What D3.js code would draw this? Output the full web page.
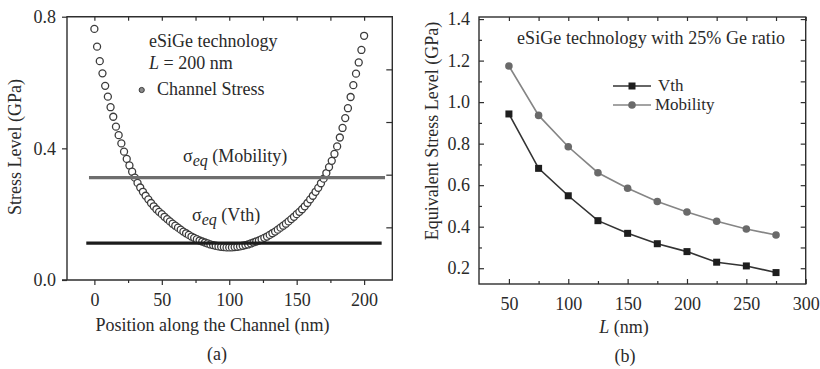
<!DOCTYPE html>
<html>
<head>
<meta charset="utf-8">
<script src="https://cdn.jsdelivr.net/npm/d3@7"></script>
<style>
  body { margin: 0; background: white; }
  svg text { font-family: "Liberation Serif", "Times New Roman", serif; fill: #2a2a2a; }
</style>
</head>
<body>
<div id="canvas"></div>
<script>
"use strict"

/* panel (a): stress along the channel, L = 200 nm */
let positions = [0, 2, 4, 6, 8, 10, 12, 14, 16, 18, 20, 22, 24, 26, 28, 30, 32, 34, 36, 38,
    40, 42, 44, 46, 48, 50, 52, 54, 56, 58, 60, 62, 64, 66, 68, 70, 72, 74, 76, 78,
    80, 82, 84, 86, 88, 90, 92, 94, 96, 98, 100, 102, 104, 106, 108, 110, 112, 114, 116, 118,
    120, 122, 124, 126, 128, 130, 132, 134, 136, 138, 140, 142, 144, 146, 148, 150, 152, 154, 156, 158,
    160, 162, 164, 166, 168, 170, 172, 174, 176, 178, 180, 182, 184, 186, 188, 190, 192, 194, 196, 198, 200];
let channelStress = [0.763, 0.709, 0.665, 0.628, 0.590, 0.557, 0.525, 0.496, 0.466, 0.440,
    0.415, 0.390, 0.368, 0.348, 0.329, 0.311, 0.295, 0.281, 0.268, 0.256,
    0.245, 0.234, 0.224, 0.215, 0.207, 0.200, 0.192, 0.185, 0.178, 0.171,
    0.165, 0.159, 0.153, 0.147, 0.142, 0.137, 0.132, 0.128, 0.124, 0.120,
    0.117, 0.114, 0.111, 0.108, 0.106, 0.104, 0.102, 0.101, 0.100, 0.099,
    0.099, 0.099, 0.100, 0.101, 0.102, 0.104, 0.106, 0.108, 0.111, 0.114,
    0.117, 0.120, 0.124, 0.128, 0.132, 0.137, 0.142, 0.147, 0.153, 0.159,
    0.165, 0.171, 0.178, 0.185, 0.192, 0.200, 0.207, 0.215, 0.224, 0.234,
    0.245, 0.256, 0.268, 0.280, 0.294, 0.308, 0.325, 0.343, 0.362, 0.383,
    0.406, 0.433, 0.462, 0.492, 0.522, 0.556, 0.592, 0.627, 0.661, 0.699, 0.742];
let sigmaMobility = 0.311;
let sigmaVth = 0.112;
let sigmaLineStart = [-4, -6];    // mobility, vth
let sigmaLineEnd = [215.5, 213];

let xTicksA = [0, 50, 100, 150, 200];
let xMinorA = [25, 75, 125, 175];
let yTicksA = [0.0, 0.4, 0.8];
let yRightTicksA = [0.16, 0.32, 0.48, 0.64];

/* panel (b): equivalent stress vs gate length */
let gateLength = [50, 75, 100, 125, 150, 175, 200, 225, 250, 275];
let vthStress = [0.943, 0.681, 0.549, 0.429, 0.368, 0.318, 0.280, 0.229, 0.211, 0.179];
let mobilityStress = [1.174, 0.936, 0.785, 0.660, 0.585, 0.521, 0.471, 0.426, 0.389, 0.360];

let xTicksB = [50, 100, 150, 200, 250, 300];
let xMinorB = [75, 125, 175, 225, 275];
let yTicksB = [0.2, 0.4, 0.6, 0.8, 1.0, 1.2, 1.4];
let yMinorB = [0.3, 0.5, 0.7, 0.9, 1.1, 1.3];

let drawing = d3.select("#canvas")
    .append("svg")
    .attr("width", 820)
    .attr("height", 369);

let frameColor = "#2e2e2e";
let fontSize = "18px";

/* ---------- panel (a) ---------- */
let xA = d3.scaleLinear().domain([-20.3, 220.9]).range([67, 392.3]);
let yA = d3.scaleLinear().domain([0, 0.8]).range([280, 16.7]);

function noDomain(g) {
    g.select(".domain").remove();
    g.selectAll(".tick line").attr("stroke", frameColor).attr("stroke-width", 1.2);
    g.selectAll(".tick text").attr("font-size", fontSize).attr("font-family", "Liberation Serif").attr("fill", "#2a2a2a");
}

// bottom axis, outward ticks
drawing.append("g")
    .attr("transform", "translate(0,280)")
    .call(d3.axisBottom(xA).tickValues(xTicksA).tickSize(5).tickPadding(8).tickFormat(d3.format("d")))
    .call(noDomain);
drawing.append("g")
    .attr("transform", "translate(0,280)")
    .call(d3.axisBottom(xA).tickValues(xMinorA).tickSize(3).tickFormat(""))
    .call(noDomain);
// top, inward
drawing.append("g")
    .attr("transform", "translate(0,16.7)")
    .call(d3.axisTop(xA).tickValues(xTicksA.concat(xMinorA)).tickSize(-4).tickFormat(""))
    .call(noDomain);
// left, outward
drawing.append("g")
    .attr("transform", "translate(67,0)")
    .call(d3.axisLeft(yA).tickValues(yTicksA).tickSize(5).tickPadding(6).tickFormat(d3.format(".1f")))
    .call(noDomain);
// right, inward
drawing.append("g")
    .attr("transform", "translate(392.3,0)")
    .call(d3.axisRight(yA).tickValues(yRightTicksA).tickSize(-6).tickFormat(""))
    .call(noDomain);

let frameA = drawing.append("path")
    .attr("d", "M" + (xA.range()[0] - 5) + "," + yA(0) +
        "H" + xA.range()[1] + "V" + yA(0.8) + "H" + xA.range()[0] + "V" + yA(0))
    .attr("fill", "none")
    .attr("stroke", frameColor)
    .attr("stroke-width", 1.4);

let stressPoints = drawing.append("g")
    .selectAll("circle")
    .data(positions)
    .join("circle")
    .attr("cx", (d) => xA(d))
    .attr("cy", (d, i) => yA(channelStress[i]))
    .attr("r", 3.5)
    .attr("fill", "white")
    .attr("stroke", "#3c3c3c")
    .attr("stroke-width", 1.3);

let mobilityLineA = drawing.append("line")
    .attr("x1", xA(sigmaLineStart[0]))
    .attr("x2", xA(sigmaLineEnd[0]))
    .attr("y1", yA(sigmaMobility))
    .attr("y2", yA(sigmaMobility))
    .attr("stroke", "#6e6e6e")
    .attr("stroke-width", 3.4);

let vthLineA = drawing.append("line")
    .attr("x1", xA(sigmaLineStart[1]))
    .attr("x2", xA(sigmaLineEnd[1]))
    .attr("y1", yA(sigmaVth))
    .attr("y2", yA(sigmaVth))
    .attr("stroke", "#1c1c1c")
    .attr("stroke-width", 3.4);

drawing.append("text")
    .attr("x", 149).attr("y", 47)
    .attr("font-size", fontSize)
    .text("eSiGe technology");

let lengthLabel = drawing.append("text")
    .attr("x", 149).attr("y", 69)
    .attr("font-size", fontSize);
lengthLabel.append("tspan").attr("font-style", "italic").text("L");
lengthLabel.append("tspan").text(" = 200 nm");

drawing.append("circle")
    .attr("cx", 141.7).attr("cy", 90)
    .attr("r", 2.6)
    .attr("fill", "#8a8a8a")
    .attr("stroke", "#3c3c3c")
    .attr("stroke-width", 1);

drawing.append("text")
    .attr("x", 157).attr("y", 95)
    .attr("font-size", fontSize)
    .text("Channel Stress");

let mobilityLabel = drawing.append("text")
    .attr("x", 183).attr("y", 162)
    .attr("font-size", fontSize);
mobilityLabel.append("tspan").text("σ");
mobilityLabel.append("tspan").attr("font-style", "italic").attr("dy", 4).attr("font-size", "16px").text("eq");
mobilityLabel.append("tspan").attr("dy", -4).text(" (Mobility)");

let vthLabel = drawing.append("text")
    .attr("x", 192).attr("y", 221)
    .attr("font-size", fontSize);
vthLabel.append("tspan").text("σ");
vthLabel.append("tspan").attr("font-style", "italic").attr("dy", 4).attr("font-size", "16px").text("eq");
vthLabel.append("tspan").attr("dy", -4).text(" (Vth)");

drawing.append("text")
    .attr("transform", "translate(21,147) rotate(-90)")
    .attr("text-anchor", "middle")
    .attr("font-size", fontSize)
    .text("Stress Level (GPa)");

drawing.append("text")
    .attr("x", 212.5).attr("y", 331)
    .attr("text-anchor", "middle")
    .attr("font-size", fontSize)
    .text("Position along the Channel (nm)");

drawing.append("text")
    .attr("x", 217).attr("y", 360)
    .attr("text-anchor", "middle")
    .attr("font-size", fontSize)
    .text("(a)");

/* ---------- panel (b) ---------- */
let xB = d3.scaleLinear().domain([24.8, 300]).range([479, 805.7]);
let yB = d3.scaleLinear().domain([0.124, 1.41]).range([284, 17]);

drawing.append("g")
    .attr("transform", "translate(0,284)")
    .call(d3.axisBottom(xB).tickValues(xTicksB).tickSize(-5).tickPadding(13).tickFormat(d3.format("d")))
    .call(noDomain);
drawing.append("g")
    .attr("transform", "translate(0,284)")
    .call(d3.axisBottom(xB).tickValues(xMinorB).tickSize(-3).tickFormat(""))
    .call(noDomain);
drawing.append("g")
    .attr("transform", "translate(0,17)")
    .call(d3.axisTop(xB).tickValues(xTicksB.concat(xMinorB)).tickSize(-4).tickFormat(""))
    .call(noDomain);
drawing.append("g")
    .attr("transform", "translate(479,0)")
    .call(d3.axisLeft(yB).tickValues(yTicksB).tickSize(-5).tickPadding(9).tickFormat(d3.format(".1f")))
    .call(noDomain);
drawing.append("g")
    .attr("transform", "translate(479,0)")
    .call(d3.axisLeft(yB).tickValues(yMinorB).tickSize(-3).tickFormat(""))
    .call(noDomain);
drawing.append("g")
    .attr("transform", "translate(805.7,0)")
    .call(d3.axisRight(yB).tickValues(yTicksB.concat(yMinorB)).tickSize(-5).tickFormat(""))
    .call(noDomain);

let frameB = drawing.append("rect")
    .attr("x", xB.range()[0])
    .attr("y", yB.range()[1])
    .attr("width", xB.range()[1] - xB.range()[0])
    .attr("height", yB.range()[0] - yB.range()[1])
    .attr("fill", "none")
    .attr("stroke", frameColor)
    .attr("stroke-width", 1.4);

let lineB = d3.line()
    .x((d, i) => xB(gateLength[i]))
    .y((d) => yB(d));

drawing.append("path")
    .attr("d", lineB(mobilityStress))
    .attr("fill", "none")
    .attr("stroke", "#858585")
    .attr("stroke-width", 1.6);

drawing.append("g")
    .selectAll("circle")
    .data(mobilityStress)
    .join("circle")
    .attr("cx", (d, i) => xB(gateLength[i]))
    .attr("cy", (d) => yB(d))
    .attr("r", 3.8)
    .attr("fill", "#6a6a6a");

drawing.append("path")
    .attr("d", lineB(vthStress))
    .attr("fill", "none")
    .attr("stroke", "#333333")
    .attr("stroke-width", 1.6);

drawing.append("g")
    .selectAll("rect")
    .data(vthStress)
    .join("rect")
    .attr("x", (d, i) => xB(gateLength[i]) - 3.5)
    .attr("y", (d) => yB(d) - 3.5)
    .attr("width", 7)
    .attr("height", 7)
    .attr("fill", "#1e1e1e");

drawing.append("text")
    .attr("x", 517).attr("y", 44)
    .attr("font-size", fontSize)
    .attr("textLength", 268)
    .text("eSiGe technology with 25% Ge ratio");

// legend
drawing.append("line")
    .attr("x1", 613).attr("x2", 651).attr("y1", 86).attr("y2", 86)
    .attr("stroke", "#333333").attr("stroke-width", 1.6);
drawing.append("rect")
    .attr("x", 628.5).attr("y", 82.5).attr("width", 7).attr("height", 7)
    .attr("fill", "#1e1e1e");
drawing.append("text")
    .attr("x", 658).attr("y", 91)
    .attr("font-size", "17px")
    .text("Vth");

drawing.append("line")
    .attr("x1", 613).attr("x2", 651).attr("y1", 105).attr("y2", 105)
    .attr("stroke", "#858585").attr("stroke-width", 1.6);
drawing.append("circle")
    .attr("cx", 632).attr("cy", 105).attr("r", 3.8)
    .attr("fill", "#6a6a6a");
drawing.append("text")
    .attr("x", 655).attr("y", 110)
    .attr("font-size", "17px")
    .text("Mobility");

drawing.append("text")
    .attr("transform", "translate(438,131) rotate(-90)")
    .attr("text-anchor", "middle")
    .attr("font-size", fontSize)
    .text("Equivalent Stress Level (GPa)");

let lAxisLabel = drawing.append("text")
    .attr("x", 624).attr("y", 333)
    .attr("text-anchor", "middle")
    .attr("font-size", fontSize);
lAxisLabel.append("tspan").attr("font-style", "italic").text("L");
lAxisLabel.append("tspan").text(" (nm)");

drawing.append("text")
    .attr("x", 625).attr("y", 362)
    .attr("text-anchor", "middle")
    .attr("font-size", fontSize)
    .text("(b)");
</script>
</body>
</html>
